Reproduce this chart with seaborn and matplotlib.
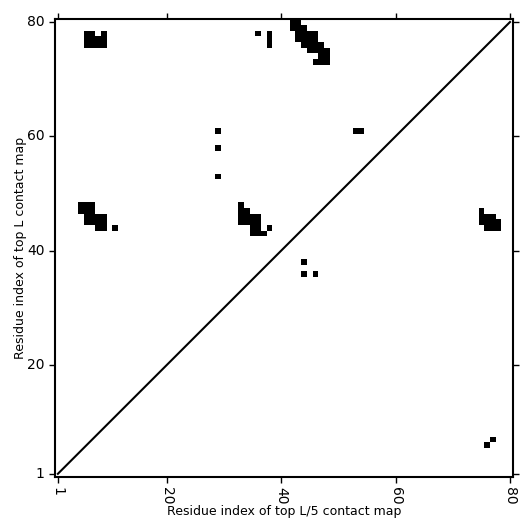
import numpy as np
import pandas as pd
import seaborn as sns
import matplotlib.pyplot as plt
from matplotlib.colors import ListedColormap

# residue range and ticks
n_res = 80
tick_vals = [1, 20, 40, 60, 80]

# contacts (x residue, y residue)
cluster_topleft = [(6, 78), (7, 78), (9, 78),
                   (6, 77), (7, 77), (8, 77), (9, 77),
                   (6, 76), (7, 76), (8, 76), (9, 76)]
cluster_top = [(36, 78), (38, 78), (38, 77), (38, 76),
               (42, 80), (43, 80),
               (42, 79), (43, 79), (44, 79),
               (43, 78), (44, 78), (45, 78), (46, 78),
               (43, 77), (44, 77), (45, 77), (46, 77),
               (44, 76), (45, 76), (46, 76), (47, 76),
               (45, 75), (46, 75), (47, 75), (48, 75),
               (47, 74), (48, 74),
               (46, 73), (47, 73), (48, 73)]
cluster_mid_single = [(29, 61), (29, 58), (29, 53), (53, 61), (54, 61)]
cluster_left = [(5, 48), (6, 48), (7, 48),
                (5, 47), (6, 47), (7, 47),
                (6, 46), (7, 46), (8, 46), (9, 46),
                (6, 45), (7, 45), (8, 45), (9, 45),
                (8, 44), (9, 44), (11, 44)]
cluster_mid = [(33, 48),
               (33, 47), (34, 47),
               (33, 46), (34, 46), (35, 46), (36, 46),
               (33, 45), (34, 45), (35, 45), (36, 45),
               (35, 44), (36, 44), (38, 44),
               (35, 43), (36, 43), (37, 43)]
cluster_right = [(75, 47),
                 (75, 46), (76, 46), (77, 46),
                 (75, 45), (76, 45), (77, 45), (78, 45),
                 (76, 44), (77, 44), (78, 44)]
cluster_low = [(44, 38), (44, 36), (46, 36), (77, 7), (76, 6)]

all_pairs = (cluster_topleft + cluster_top + cluster_mid_single + cluster_left
             + cluster_mid + cluster_right + cluster_low)

mat = np.zeros((n_res, n_res))
for x, y in all_pairs:
    mat[y - 1, x - 1] = 1
df = pd.DataFrame(mat, index=range(1, n_res + 1), columns=range(1, n_res + 1))

fig = plt.figure(figsize=(5.32, 5.32), dpi=100)
ax = fig.add_axes([0.1034, 0.104, 0.8606, 0.86])

sns.heatmap(df, cmap=ListedColormap(['white', 'black']), vmin=0, vmax=1,
            cbar=False, ax=ax, square=False)
ax.invert_yaxis()
ax.set_xlim(0, n_res)
ax.set_ylim(0, n_res)

# diagonal line through residue centres
diag = np.array([1, n_res]) - 0.5
ax.plot(diag, diag, color='black', lw=1.5)

for s in ax.spines.values():
    s.set_visible(True)
    s.set_linewidth(1.5)
    s.set_color('black')

pos = np.array(tick_vals) - 0.5
ax.set_xticks(pos)
ax.set_xticklabels([str(t) for t in tick_vals], rotation=-90)
ax.set_yticks(pos)
ax.set_yticklabels([str(t) for t in tick_vals], rotation=0)
ax.tick_params(direction='out', top=True, right=True, length=4, width=1,
               labelsize=10, labeltop=False, labelright=False)

ax.set_xlabel("Residue index of top L/5 contact map", fontsize=9, labelpad=0)
ax.set_ylabel("Residue index of top L contact map", fontsize=9, labelpad=0)

fig.savefig("out.png", dpi=100)
